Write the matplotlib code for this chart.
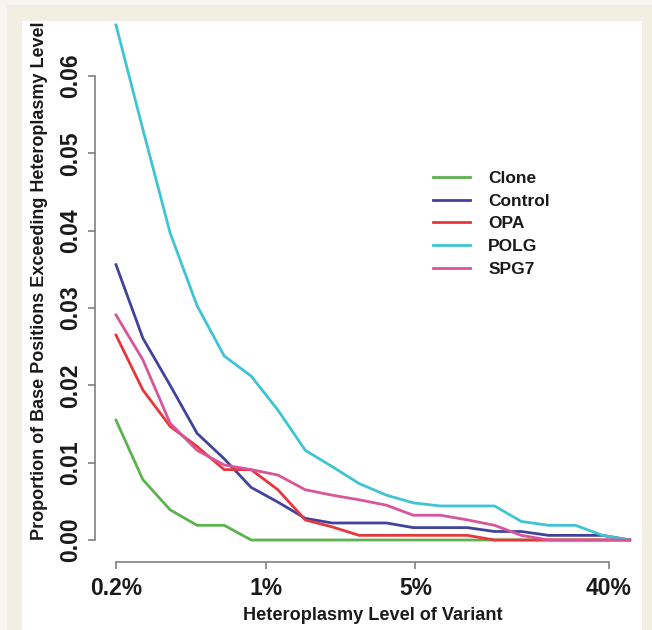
import matplotlib
matplotlib.use("Agg")
import matplotlib.pyplot as plt
from matplotlib.patches import Rectangle

# Heteroplasmy thresholds (percent)
levels_pct = [0.2, 0.267, 0.358, 0.478, 0.640, 0.855, 1.14, 1.53, 2.04, 2.73,
              3.66, 4.89, 6.54, 8.74, 11.7, 15.6, 20.9, 27.9, 37.4, 50.0]

series_names = ["Clone", "Control", "OPA", "POLG", "SPG7"]
clone = [0.0155, 0.0078, 0.0039, 0.0019, 0.0019, 0.0, 0.0, 0.0, 0.0, 0.0,
         0.0, 0.0, 0.0, 0.0, 0.0, 0.0, 0.0, 0.0, 0.0, 0.0]
control = [0.0356, 0.0261, 0.0200, 0.0138, 0.0105, 0.0068, 0.0049, 0.0028, 0.0022, 0.0022,
           0.0022, 0.0016, 0.0016, 0.0016, 0.0011, 0.0011, 0.0006, 0.0006, 0.0006, 0.0]
opa = [0.0265, 0.0194, 0.0147, 0.0121, 0.0091, 0.0091, 0.0065, 0.0026, 0.0017, 0.0006,
       0.0006, 0.0006, 0.0006, 0.0006, 0.0, 0.0, 0.0, 0.0, 0.0, 0.0]
polg = [0.0666, 0.0531, 0.0397, 0.0303, 0.0238, 0.0212, 0.0168, 0.0116, 0.0095, 0.0073,
        0.0058, 0.0048, 0.0044, 0.0044, 0.0044, 0.0024, 0.0019, 0.0019, 0.0006, 0.0]
spg7 = [0.0291, 0.0233, 0.0151, 0.0116, 0.0097, 0.0091, 0.0084, 0.0065, 0.0058, 0.0052,
        0.0045, 0.0032, 0.0032, 0.0026, 0.0019, 0.0006, 0.0, 0.0, 0.0, 0.0]
series_values = [clone, control, opa, polg, spg7]
colors = ["#5cb24e", "#42429e", "#e8373a", "#3fc4d4", "#d9559a"]

y_ticks = [0.00, 0.01, 0.02, 0.03, 0.04, 0.05, 0.06]
y_tick_labels = ["0.00", "0.01", "0.02", "0.03", "0.04", "0.05", "0.06"]
x_ticks_pct = [0.2, 1, 5, 40]
x_tick_labels = ["0.2%", "1%", "5%", "40%"]

W, H = 652, 630
fig = plt.figure(figsize=(W / 100, H / 100), dpi=100)
fig.patch.set_facecolor("#f7f5ef")
fig.patches.append(Rectangle((7 / W, 0), 1 - 7 / W, 1 - 5 / H, transform=fig.transFigure,
                             facecolor="#f2eee2", edgecolor="none", zorder=-10))
fig.patches.append(Rectangle((22 / W, 0), (642 - 22) / W, 1 - 21 / H, transform=fig.transFigure,
                             facecolor="white", edgecolor="none", zorder=-9))

ax = fig.add_axes([95 / W, 68 / H, (640 - 95) / W, (609 - 68) / H])
ax.set_facecolor("none")

xs = [v / 100 for v in levels_pct]
for name, vals, c in zip(series_names, series_values, colors):
    ax.plot(xs, vals, color=c, lw=2.0, label=name, solid_joinstyle="round")

ax.set_xscale("log")
ax.set_xlim(0.001596, 0.5585)
ax.set_ylim(-0.002845, 0.06712)
ax.minorticks_off()

font = "Liberation Sans"
ax.set_xticks([v / 100 for v in x_ticks_pct])
ax.set_xticklabels(x_tick_labels, fontfamily=font, fontweight="bold", fontsize=16.5, color="#1a1a1a")
ax.set_yticks(y_ticks)
ax.set_yticklabels(y_tick_labels, fontfamily=font, fontweight="bold", fontsize=16.5,
                   color="#1a1a1a", rotation=90, va="center")

for s in ["top", "right"]:
    ax.spines[s].set_visible(False)
ax.spines["left"].set_bounds(0.0, 0.06)
ax.spines["bottom"].set_bounds(0.002, 0.4)
for s in ["left", "bottom"]:
    ax.spines[s].set_color("#808080")
    ax.spines[s].set_linewidth(1.2)
ax.tick_params(axis="both", length=5, width=1.2, color="#808080")
ax.tick_params(axis="x", pad=6.0)
ax.tick_params(axis="y", pad=4.5)

fig.text(373 / W, 1 - 615 / H, "Heteroplasmy Level of Variant", fontfamily=font,
         fontweight="bold", fontsize=13.1, color="#1a1a1a", ha="center", va="center")
fig.text(40 / W, 1 - 281 / H, "Proportion of Base Positions Exceeding Heteroplasmy Level",
         fontfamily=font, fontweight="bold", fontsize=13.0, color="#1a1a1a",
         ha="center", va="center", rotation=90)

leg = ax.legend(loc="upper left", bbox_to_anchor=(432.7 / W, 1 - 171 / H),
                bbox_transform=fig.transFigure, frameon=False, borderpad=0,
                borderaxespad=0, handlelength=2.13, handletextpad=1.06, labelspacing=0.43,
                prop={"family": font, "weight": "bold", "size": 12.5})
for t in leg.get_texts():
    t.set_color("#1a1a1a")

fig.savefig("out.png", dpi=100, facecolor=fig.get_facecolor())
